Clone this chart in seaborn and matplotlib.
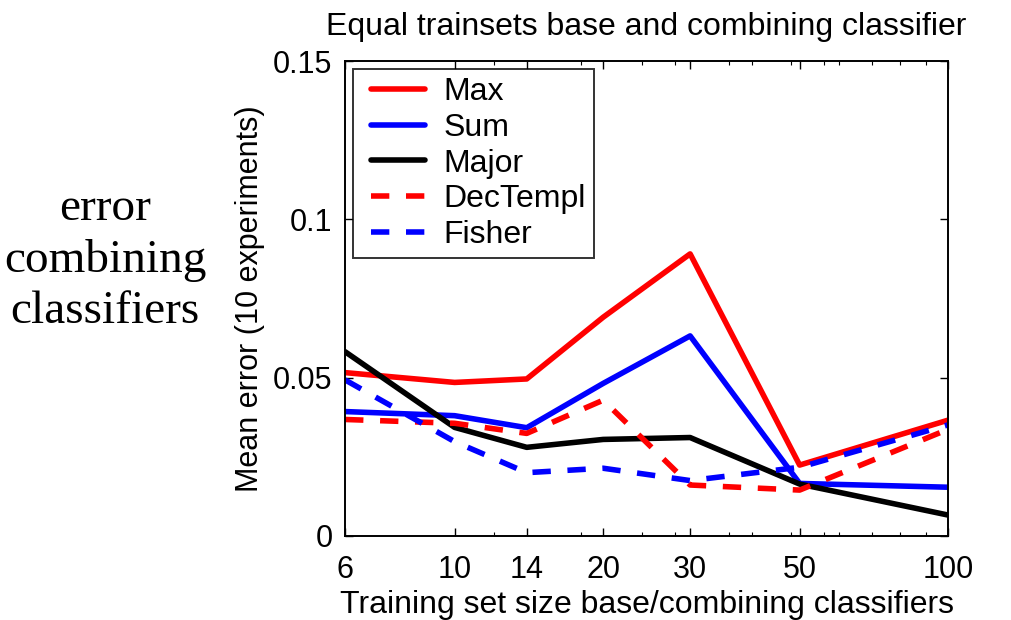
import matplotlib
matplotlib.use("Agg")
import matplotlib.pyplot as plt
from matplotlib.ticker import FixedLocator, NullFormatter
import numpy as np
import pandas as pd
import seaborn as sns

# Training set sizes (base / combining classifiers)
train_sizes = [6, 10, 14, 20, 30, 50, 100]

# Mean error over 10 experiments for each combining rule
err_max = [0.0516, 0.0485, 0.0496, 0.0691, 0.0891, 0.0224, 0.0366]
err_sum = [0.0393, 0.0380, 0.0342, 0.0482, 0.0632, 0.0166, 0.0154]
err_major = [0.0582, 0.0343, 0.0280, 0.0305, 0.0311, 0.0164, 0.0066]
err_dectempl = [0.0368, 0.0356, 0.0324, 0.0429, 0.0161, 0.0145, 0.0337]
err_fisher = [0.0493, 0.0298, 0.0200, 0.0214, 0.0175, 0.0217, 0.0351]

methods = ["Max", "Sum", "Major", "DecTempl", "Fisher"]
series = [err_max, err_sum, err_major, err_dectempl, err_fisher]

x_ticks = [6, 10, 14, 20, 30, 50, 100]
y_ticks = [0, 0.05, 0.1, 0.15]

df = pd.DataFrame({
    "size": np.tile(train_sizes, len(methods)),
    "error": np.concatenate(series),
    "method": np.repeat(methods, len(train_sizes)),
})

sns.set_theme(style="white")
plt.rcParams["font.family"] = ["Liberation Sans", "DejaVu Sans"]
plt.rcParams["text.color"] = "black"
plt.rcParams["axes.labelcolor"] = "black"
plt.rcParams["xtick.color"] = "black"
plt.rcParams["ytick.color"] = "black"

palette = {"Max": "#ff0000", "Sum": "#0000ff", "Major": "#000000",
           "DecTempl": "#ff0000", "Fisher": "#0000ff"}
dash_style = {"Max": "", "Sum": "", "Major": "",
              "DecTempl": (3.3, 3.0), "Fisher": (3.3, 3.0)}

LW = 4.0
FS = 22

fig = plt.figure(figsize=(10.12, 6.2), dpi=100)
ax = fig.add_axes([0.341, 0.1355, 0.596, 0.766])

sns.lineplot(data=df, x="size", y="error", hue="method", style="method",
             palette=palette, dashes=dash_style, hue_order=methods,
             style_order=methods, linewidth=LW, ax=ax, legend=True)

ax.set_xscale("log")
ax.set_xlim(6, 100)
ax.set_ylim(0, 0.15)
ax.set_xticks(x_ticks)
ax.set_xticklabels([str(t) for t in x_ticks])
ax.xaxis.set_minor_locator(FixedLocator([12, 18, 24, 28, 36, 40, 48, 56, 60, 70, 80, 90]))
ax.xaxis.set_minor_formatter(NullFormatter())
ax.set_yticks(y_ticks)
ax.set_yticklabels(["0", "0.05", "0.1", "0.15"])

for sp in ax.spines.values():
    sp.set_visible(True)
    sp.set_color("black")
    sp.set_linewidth(1.4)

ax.tick_params(axis="both", which="major", direction="in", length=6, width=1,
               colors="black", labelsize=FS, top=True, right=True,
               bottom=True, left=True, pad=9)
ax.tick_params(axis="x", which="major", pad=14)
ax.tick_params(axis="x", which="minor", direction="in", length=3, width=0.8,
               top=True, bottom=True)
ax.grid(False)

ax.set_xlabel("Training set size base/combining classifiers", fontsize=FS + 1,
              labelpad=3, color="black")
ax.set_ylabel("Mean error (10 experiments)", fontsize=FS, labelpad=6,
              color="black")
ax.set_title("Equal trainsets base and combining classifier", fontsize=FS + 1,
             pad=19, color="black")

handles, labels = ax.get_legend_handles_labels()
leg = ax.legend(handles, labels, loc="upper left", fontsize=FS + 1,
                frameon=True, fancybox=False, edgecolor="black",
                numpoints=2, handlelength=2.3, handletextpad=0.28,
                labelspacing=0.18, borderpad=0.25, borderaxespad=0.25,
                labelcolor="black")
leg.get_frame().set_linewidth(1.4)
for line in leg.get_lines():
    line.set_linewidth(LW)

fig.text(0.104, 0.58, "error\ncombining\nclassifiers", ha="center",
         va="center", fontsize=34, family="Liberation Serif",
         linespacing=1.27, color="black")

fig.savefig("out.png", dpi=100, facecolor="white")
